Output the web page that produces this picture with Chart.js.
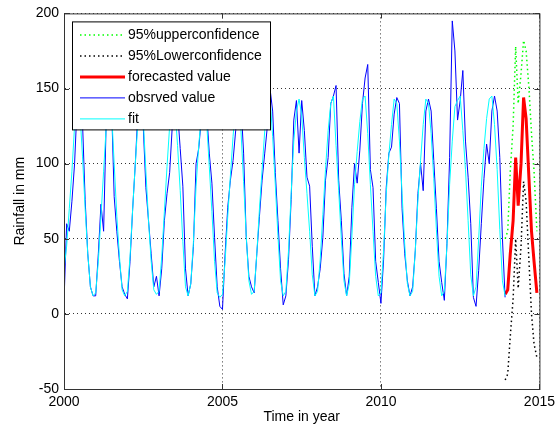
<!DOCTYPE html>
<html lang="en">
<head>
<meta charset="UTF-8">
<title>Rainfall forecast</title>
<script src="https://cdn.jsdelivr.net/npm/chart.js"></script>
<style>
  html, body { margin: 0; padding: 0; background: #fff; }
</style>
</head>
<body>
<canvas id="rainChart" width="560" height="433"></canvas>
<script>
// monthly series, Jan 2000 .. Dec 2013
const startYear = 2000;
const obsValues = [
  8, 60, 55, 75, 100, 140, 150, 128, 76, 40, 18, 12,      // 2000
  12, 40, 73, 55, 130, 150, 140, 78, 55, 35, 18, 13,      // 2001
  10, 35, 70, 100, 135, 148, 125, 84, 62, 40, 18, 25,     // 2002
  12, 30, 62, 80, 94, 125, 140, 135, 110, 85, 30, 12,     // 2003
  20, 45, 100, 110, 130, 140, 135, 107, 87, 51, 18, 5,    // 2004
  3, 40, 71, 89, 102, 122, 145, 140, 107, 51, 25, 18,     // 2005
  14, 40, 65, 89, 107, 125, 150, 135, 94, 62, 30, 6,      // 2006
  12, 36, 76, 129, 142, 107, 142, 122, 91, 85, 45, 12,    // 2007
  18, 30, 51, 89, 104, 140, 145, 152, 89, 62, 27, 12,     // 2008
  25, 71, 100, 87, 109, 140, 157, 166, 96, 84, 35, 21,    // 2009
  7, 36, 84, 107, 111, 133, 144, 140, 70, 40, 22, 12,     // 2010
  18, 42, 80, 100, 82, 135, 143, 135, 102, 70, 35, 21,    // 2011
  9, 47, 104, 195, 175, 129, 142, 162, 115, 91, 60, 11,   // 2012
  5, 29, 60, 90, 113, 100, 135, 145, 135, 104, 50, 11     // 2013
];
const fitValues = [
  30, 45, 70, 95, 125, 140, 135, 105, 70, 40, 18, 12,
  14, 35, 65, 95, 125, 140, 135, 100, 65, 38, 16, 12,
  15, 38, 70, 100, 128, 142, 130, 95, 62, 35, 16, 13,
  15, 38, 68, 98, 125, 140, 138, 112, 82, 48, 18, 12,
  20, 48, 85, 112, 132, 142, 128, 98, 68, 35, 14, 11,
  13, 35, 65, 92, 118, 138, 142, 122, 88, 52, 22, 13,
  15, 40, 70, 96, 122, 140, 144, 118, 86, 52, 22, 12,
  15, 42, 80, 115, 135, 143, 132, 104, 80, 55, 26, 12,
  15, 36, 66, 96, 122, 140, 145, 112, 82, 50, 22, 12,
  20, 52, 86, 108, 128, 143, 145, 120, 86, 55, 25, 12,
  14, 42, 80, 106, 126, 143, 140, 115, 80, 46, 20, 12,
  15, 42, 76, 102, 126, 143, 140, 120, 90, 56, 25, 12,
  15, 46, 86, 115, 138, 142, 145, 122, 96, 62, 26, 12,
  18, 50, 85, 110, 130, 143, 145, 126, 96, 56, 22, 12
];

// forecast for 2014
const fcTime  = [2013.92, 2014.0, 2014.08, 2014.17, 2014.25, 2014.33, 2014.42, 2014.5, 2014.58, 2014.67, 2014.75, 2014.83, 2014.92];
const fcValue = [13, 16, 40, 62, 104, 72, 100, 144, 130, 90, 55, 35, 14];
const fcUpper = [50, 55, 95, 125, 178, 140, 160, 182, 175, 150, 120, 95, 55];
const fcLower = [-44, -40, -15, 10, 50, 17, 45, 88, 75, 35, 0, -20, -29];

const seriesLabels = ['95%upperconfidence', '95%Lowerconfidence', 'forecasted value', 'obsrved value', 'fit'];
const xTicks = [2000, 2005, 2010, 2015];
const yTicks = [-50, 0, 50, 100, 150, 200];

const font = "'Liberation Sans', Arial, sans-serif";

function monthly(vals) {
  return vals.map((v, i) => ({ x: startYear + i / 12, y: v }));
}
function paired(t, vals) {
  return vals.map((v, i) => ({ x: t[i], y: v }));
}

// box, inward ticks and legend in the MATLAB look
const matlabFrame = {
  id: 'matlabFrame',
  afterDatasetsDraw(chart) {
    const { ctx, chartArea: a, scales } = chart;
    ctx.save();
    ctx.strokeStyle = '#333';
    ctx.lineWidth = 1;
    ctx.strokeRect(a.left + 0.5, a.top + 0.5, a.right - a.left, a.bottom - a.top);
    ctx.beginPath();
    xTicks.forEach(v => {
      const px = Math.round(scales.x.getPixelForValue(v)) + 0.5;
      ctx.moveTo(px, a.bottom); ctx.lineTo(px, a.bottom - 5);
      ctx.moveTo(px, a.top); ctx.lineTo(px, a.top + 5);
    });
    yTicks.forEach(v => {
      const py = Math.round(scales.y.getPixelForValue(v)) + 0.5;
      ctx.moveTo(a.left, py); ctx.lineTo(a.left + 5, py);
      ctx.moveTo(a.right, py); ctx.lineTo(a.right - 5, py);
    });
    ctx.stroke();

    // legend box
    const bx = a.left + 8, by = a.top + 8, bw = 198, bh = 108;
    ctx.fillStyle = '#fff';
    ctx.fillRect(bx, by, bw, bh);
    ctx.strokeStyle = '#000';
    ctx.strokeRect(bx + 0.5, by + 0.5, bw, bh);
    ctx.font = '14px ' + font;
    ctx.textBaseline = 'middle';
    chart.data.datasets.forEach((ds, i) => {
      const y = by + 13 + i * 21;
      ctx.save();
      ctx.strokeStyle = ds.borderColor;
      ctx.lineWidth = ds.borderWidth;
      ctx.setLineDash(ds.borderDash || []);
      ctx.beginPath();
      ctx.moveTo(bx + 8, y + 0.5);
      ctx.lineTo(bx + 53, y + 0.5);
      ctx.stroke();
      ctx.restore();
      ctx.fillStyle = '#000';
      ctx.fillText(ds.label, bx + 56, y + 1);
    });
    ctx.restore();
  }
};

new Chart(document.getElementById('rainChart'), {
  type: 'line',
  data: {
    datasets: [
      { label: seriesLabels[0], data: paired(fcTime, fcUpper), borderColor: '#00ff00', borderWidth: 1.5, borderDash: [1.5, 3], order: 4 },
      { label: seriesLabels[1], data: paired(fcTime, fcLower), borderColor: '#000000', borderWidth: 1.5, borderDash: [1.5, 3], order: 3 },
      { label: seriesLabels[2], data: paired(fcTime, fcValue), borderColor: '#ff0000', borderWidth: 3, order: 2 },
      { label: seriesLabels[3], data: monthly(obsValues), borderColor: '#0000ff', borderWidth: 1, order: 1 },
      { label: seriesLabels[4], data: monthly(fitValues), borderColor: '#00ffff', borderWidth: 1, order: 0 }
    ]
  },
  options: {
    responsive: false,
    animation: false,
    devicePixelRatio: 1,
    layout: { padding: { top: 12, right: 18, left: 0, bottom: 0 } },
    elements: { point: { radius: 0 }, line: { tension: 0, fill: false } },
    plugins: { legend: { display: false }, tooltip: { enabled: false } },
    scales: {
      x: {
        type: 'linear', min: 2000, max: 2015,
        afterBuildTicks: s => { s.ticks = xTicks.map(v => ({ value: v })); },
        afterFit: s => { s.height = 44; },
        ticks: { color: '#000', font: { family: font, size: 14 }, padding: 5, maxRotation: 0, callback: v => String(v) },
        grid: { color: 'rgba(0,0,0,0.8)', drawTicks: false },
        border: { color: '#333', dash: [1, 3] },
        title: { display: true, text: 'Time in year', color: '#000', font: { family: font, size: 14 }, padding: { top: 0, bottom: 7 } }
      },
      y: {
        type: 'linear', min: -50, max: 200,
        afterBuildTicks: s => { s.ticks = yTicks.map(v => ({ value: v })); },
        afterFit: s => { s.width = 64; },
        ticks: { color: '#000', font: { family: font, size: 14 }, padding: 5, callback: v => String(v) },
        grid: { color: 'rgba(0,0,0,0.8)', drawTicks: false },
        border: { color: '#333', dash: [1, 3] },
        title: { display: true, text: 'Rainfall in mm', color: '#000', font: { family: font, size: 14 }, padding: { top: 12, bottom: 0 } }
      }
    }
  },
  plugins: [matlabFrame]
});
</script>
</body>
</html>
